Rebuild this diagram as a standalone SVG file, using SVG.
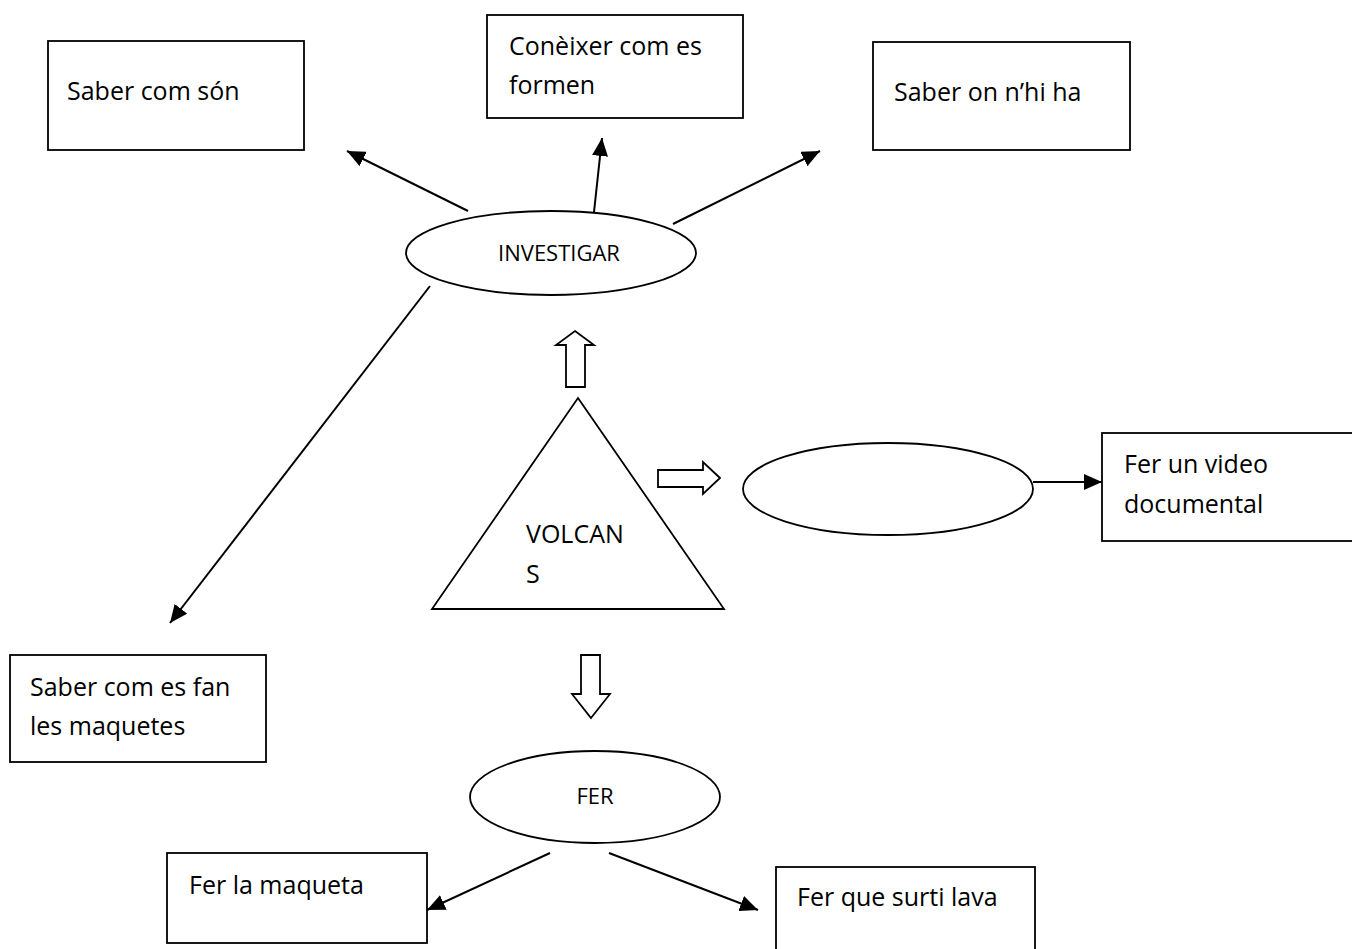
<svg xmlns="http://www.w3.org/2000/svg" width="1352" height="949" viewBox="0 0 1352 949">
<style>
.box{fill:#fff;stroke:#000;stroke-width:1.8}
.sh{fill:#fff;stroke:#000;stroke-width:1.8}
.t{font-family:"Open Sans","Liberation Sans",sans-serif;font-size:25px;fill:#000}
.s{font-family:"Open Sans","Liberation Sans",sans-serif;font-size:22px;fill:#000}
.c{stroke:#000;stroke-width:2;fill:none;marker-end:url(#ah)}
.blk{fill:#fff;stroke:#000;stroke-width:1.8;stroke-linejoin:miter}
</style>
<defs>
<marker id="ah" markerWidth="20" markerHeight="16" refX="18" refY="8" orient="auto" markerUnits="userSpaceOnUse">
<path d="M0,0 L18,8 L0,16 Z" fill="#000"/>
</marker>
</defs>
<rect width="1352" height="949" fill="#fff"/>
<g id="n-saber-com-son"><rect class="box" x="48" y="41" width="256" height="109"/><text class="t" x="67" y="100">Saber com són</text></g>
<g id="n-coneixer"><rect class="box" x="487" y="15" width="256" height="103"/><text class="t" x="509" y="55">Conèixer com es</text><text class="t" x="509" y="94">formen</text></g>
<g id="n-saber-on"><rect class="box" x="873" y="42" width="257" height="108"/><text class="t" x="894" y="101">Saber on n’hi ha</text></g>
<g id="n-investigar"><ellipse class="sh" cx="551" cy="253" rx="145" ry="42"/><text class="s" x="559" y="261" text-anchor="middle">INVESTIGAR</text></g>
<g id="n-volcans"><polygon class="sh" points="578,398 724,609 432,609"/><text class="t" x="526" y="543">VOLCAN</text><text class="t" x="526" y="583">S</text></g>
<g id="n-blank"><ellipse class="sh" cx="888" cy="489" rx="145" ry="46"/></g>
<g id="n-video"><rect class="box" x="1102" y="433" width="252" height="108"/><text class="t" x="1124" y="473">Fer un video</text><text class="t" x="1124" y="513">documental</text></g>
<g id="n-maquetes"><rect class="box" x="10" y="655" width="256" height="107"/><text class="t" x="30" y="696">Saber com es fan</text><text class="t" x="30" y="735">les maquetes</text></g>
<g id="n-fer"><ellipse class="sh" cx="595" cy="797" rx="125" ry="46"/><text class="s" x="595" y="804" text-anchor="middle">FER</text></g>
<g id="n-maqueta"><rect class="box" x="167" y="853" width="260" height="90"/><text class="t" x="189" y="894">Fer la maqueta</text></g>
<g id="n-lava"><rect class="box" x="776" y="867" width="259" height="90"/><text class="t" x="797" y="906">Fer que surti lava</text></g>
<g id="connectors">
<line class="c" x1="468" y1="211" x2="347" y2="151"/>
<line class="c" x1="594" y1="212" x2="602" y2="138"/>
<line class="c" x1="673" y1="224" x2="820" y2="151"/>
<line class="c" x1="430" y1="286" x2="170" y2="623"/>
<line class="c" x1="1033" y1="482" x2="1102" y2="482"/>
<line class="c" x1="550" y1="853" x2="427" y2="910"/>
<line class="c" x1="609" y1="853" x2="758" y2="910"/>
<polygon class="blk" points="575,331 594,345 585,345 585,387 566,387 566,345 556,345"/>
<polygon class="blk" points="720,478 703,462 703,470 658,470 658,487 703,487 703,494"/>
<polygon class="blk" points="591,718 610,694 600,694 600,655 581,655 581,694 572,694"/>
</g>
</svg>
